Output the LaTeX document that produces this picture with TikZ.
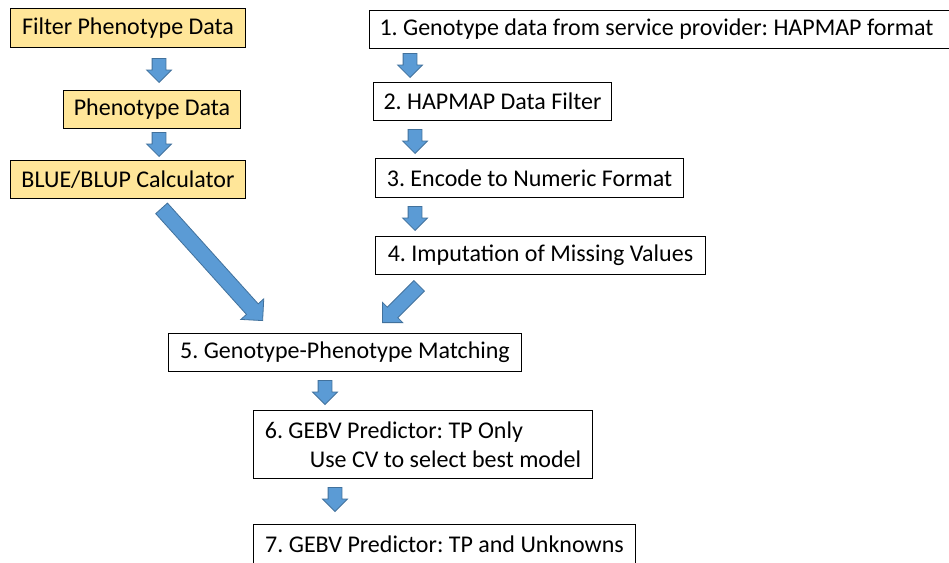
\documentclass[tikz,border=0pt]{standalone}
\usepackage{fontspec}
\setmainfont{Carlito}
\frenchspacing
\usetikzlibrary{shapes.arrows}
\definecolor{vyellow}{HTML}{FFE699}
\definecolor{vblue}{HTML}{5B9BD5}
\definecolor{vedge}{HTML}{41719C}

\begin{document}
\begin{tikzpicture}[x=1pt, y=-1pt,
    box/.style={draw=black, line width=1pt, anchor=north west, align=left,
      inner xsep=10pt, inner ysep=0pt, font=\fontsize{24}{29}\selectfont},
    pbox/.style={box, fill=vyellow},
    blk/.style={single arrow, draw=vedge, fill=vblue, line width=0.8pt,
      inner xsep=0pt, inner ysep=6.5pt, minimum height=24pt,
      single arrow head extend=5.5pt, single arrow tip angle=90, anchor=tip},
    down/.style={blk, rotate=-90}]
  \fill[white] (0,0) rectangle (949,562);
  \clip (0,0) rectangle (949,562);
  % phenotype side
  \node[pbox, minimum width=235pt, minimum height=39pt] (filt) at (10,8) {Filter Phenotype Data};
  \node[pbox, minimum width=177pt, minimum height=38pt] (pheno) at (63,90) {Phenotype Data};
  \node[pbox, minimum width=235pt, minimum height=38pt] (blup) at (10,160) {BLUE/BLUP Calculator};
  \node[down] (fa1) at (159,83) {};
  \node[down] (fa2) at (159,157) {};
  % genotype side
  \node[box, minimum width=590pt, minimum height=38pt] (geno) at (369,10) {1. Genotype data from service provider: HAPMAP format\hspace*{18pt}};
  \node[box, minimum width=214pt, minimum height=38pt] (filter) at (373,82) {2. HAPMAP Data Filter};
  \node[box, minimum width=308pt, minimum height=39pt] (encode) at (375,158) {3. Encode to Numeric Format};
  \node[box, minimum width=330pt, minimum height=38pt] (impute) at (375,236) {4. Imputation of Missing Values};
  \node[down] (ga1) at (410,78) {};
  \node[down] (ga2) at (415,154) {};
  \node[down] (ga3) at (415,231) {};
  % merge
  \node[blk, inner ysep=7.5pt, minimum height=151pt, single arrow head extend=7.5pt, rotate=-48] (big1) at (263,321) {};
  \node[blk, inner ysep=7pt, minimum height=52pt, single arrow head extend=7pt, rotate=-135] (big2) at (382,323) {};
  \node[box, minimum width=353pt, minimum height=38pt] (match) at (168,333) {5. Genotype-Phenotype Matching};
  \node[box, minimum width=339pt, minimum height=68pt] (tp) at (253,410) {6. GEBV Predictor: TP Only\\\hspace*{45pt}Use CV to select best model};
  \node[box, minimum width=382pt, minimum height=39pt] (unk) at (253,524) {7. GEBV Predictor: TP and Unknowns};
  \node[down] (ma1) at (325,405) {};
  \node[down] (ma2) at (335,512) {};
\end{tikzpicture}
\end{document}
